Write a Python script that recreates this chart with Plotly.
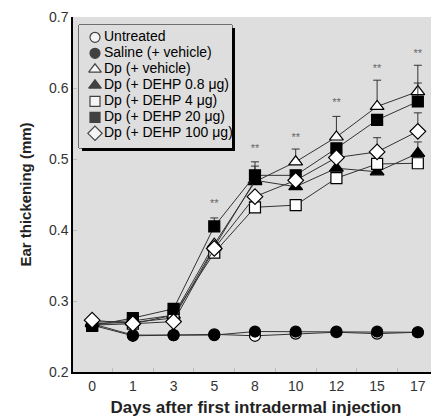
import plotly.graph_objects as go

days = ["0", "1", "3", "5", "8", "10", "12", "15", "17"]

untreated = [0.268, 0.252, 0.252, 0.253, 0.251, 0.254, 0.256, 0.254, 0.256]
saline = [0.266, 0.251, 0.252, 0.252, 0.257, 0.257, 0.257, 0.257, 0.256]
dp_vehicle = [0.270, 0.272, 0.280, 0.380, 0.468, 0.496, 0.531, 0.574, 0.595]
dehp_08 = [0.268, 0.270, 0.276, 0.376, 0.470, 0.461, 0.487, 0.482, 0.508]
dehp_4 = [0.266, 0.268, 0.280, 0.368, 0.432, 0.435, 0.473, 0.493, 0.494]
dehp_20 = [0.265, 0.276, 0.289, 0.405, 0.477, 0.477, 0.515, 0.555, 0.581]
dehp_100 = [0.273, 0.268, 0.271, 0.374, 0.447, 0.470, 0.502, 0.510, 0.539]

# upper error bars (SE)
err_dp_vehicle = [0, 0, 0, 0, 0.022, 0.018, 0.029, 0.037, 0.037]
err_dehp_08 = [0, 0, 0, 0, 0, 0, 0, 0, 0.016]
err_dehp_4 = [0, 0, 0, 0, 0, 0, 0, 0, 0]
err_dehp_20 = [0, 0, 0, 0.012, 0.019, 0, 0, 0, 0.026]
err_dehp_100 = [0, 0, 0, 0, 0, 0, 0, 0.020, 0.026]

star_days = ["5", "8", "10", "12", "15", "17"]
star_y = [0.436, 0.514, 0.529, 0.578, 0.627, 0.648]

names = ["Untreated", "Saline (+ vehicle)", "Dp (+ vehicle)", "Dp (+ DEHP 0.8 μg)",
         "Dp (+ DEHP 4 μg)", "Dp (+ DEHP 20 μg)", "Dp (+ DEHP 100 μg)"]
series = [untreated, saline, dp_vehicle, dehp_08, dehp_4, dehp_20, dehp_100]
errs = [None, None, err_dp_vehicle, err_dehp_08, err_dehp_4, err_dehp_20, err_dehp_100]
symbols = ["circle", "circle", "triangle-up", "triangle-up", "square", "square", "diamond"]
fills = ["white", "black", "white", "black", "white", "black", "white"]
sizes = [11, 11, 12, 12, 11, 11, 12]
legend_rows = list(range(len(names)))

FONT = "Liberation Sans Narrow, Arial Narrow, Liberation Sans, sans-serif"

fig = go.Figure()
for name, ys, er, sym, fc, sz in zip(names, series, errs, symbols, fills, sizes):
    kw = {}
    if er is not None:
        kw["error_y"] = dict(type="data", symmetric=False, array=er,
                             arrayminus=[0] * len(er), color="#333333",
                             thickness=1, width=4)
    fig.add_trace(go.Scatter(
        x=days, y=ys, mode="lines+markers", name=name, showlegend=False,
        line=dict(color="#333333", width=1),
        marker=dict(symbol=sym, size=sz, color=fc, line=dict(color="black", width=1.2)),
        **kw))

fig.add_trace(go.Scatter(
    x=star_days, y=star_y, mode="text", text=["**"] * len(star_days),
    textfont=dict(size=11, color="#666666", family=FONT), showlegend=False))

# custom legend (own small axes)
fig.add_trace(go.Scatter(
    x=[16] * len(names), y=legend_rows, mode="markers", xaxis="x2", yaxis="y2",
    showlegend=False, hoverinfo="skip", cliponaxis=False,
    marker=dict(symbol=symbols, size=[s - 1 for s in sizes], color=fills,
                line=dict(color="black", width=1.2))))
fig.add_trace(go.Scatter(
    x=[25] * len(names), y=legend_rows, mode="text", xaxis="x2", yaxis="y2",
    text=names, textposition="middle right", showlegend=False, hoverinfo="skip",
    cliponaxis=False,
    textfont=dict(size=14, color="black", family=FONT)))

PX_W, PX_H = 366.0, 355.0
bx0, bx1, by0, by1 = 6, 159, 224, 347  # legend box in plot-area pixels (from left / bottom)
fig.add_shape(type="rect", xref="paper", yref="paper", layer="below",
              x0=(bx0 + 3) / PX_W, x1=(bx1 + 3) / PX_W, y0=(by0 - 3) / PX_H, y1=(by1 - 3) / PX_H,
              fillcolor="black", line=dict(width=0))
fig.add_shape(type="rect", xref="paper", yref="paper", layer="below",
              x0=bx0 / PX_W, x1=bx1 / PX_W, y0=by0 / PX_H, y1=by1 / PX_H,
              fillcolor="white", line=dict(color="black", width=1))

fig.update_layout(
    width=431, height=412,
    margin=dict(l=65, r=0, t=9, b=48),
    paper_bgcolor="white", plot_bgcolor="#dedede",
    font=dict(family=FONT, size=14, color="#333333"),
    showlegend=False,
    xaxis=dict(type="category", range=[-0.47, 8.52], showgrid=False,
               showline=True, linecolor="black", linewidth=1.5,
               ticks="inside", tickson="boundaries", ticklen=4, tickcolor="#bbbbbb",
               tickfont=dict(size=14, color="#333333"),
               title=dict(text="<b>Days after first intradermal injection</b>",
                          font=dict(size=17, color="#222222"), standoff=9)),
    yaxis=dict(range=[0.2, 0.7], dtick=0.1, tickformat=".1f", showgrid=False,
               showline=True, linecolor="black", linewidth=1.5,
               ticks="inside", ticklen=4, tickcolor="#bbbbbb",
               tickfont=dict(size=14, color="#333333"),
               title=dict(text="<b>Ear thickening (mm)</b>",
                          font=dict(size=15, color="#222222"), standoff=14)),
    xaxis2=dict(domain=[bx0 / PX_W, bx1 / PX_W], range=[0, bx1 - bx0], anchor="y2",
                visible=False, fixedrange=True),
    yaxis2=dict(domain=[by0 / PX_H, by1 / PX_H], range=[6.919, -0.77], anchor="x2",
                visible=False, fixedrange=True),
)

fig.write_html("out.html")
